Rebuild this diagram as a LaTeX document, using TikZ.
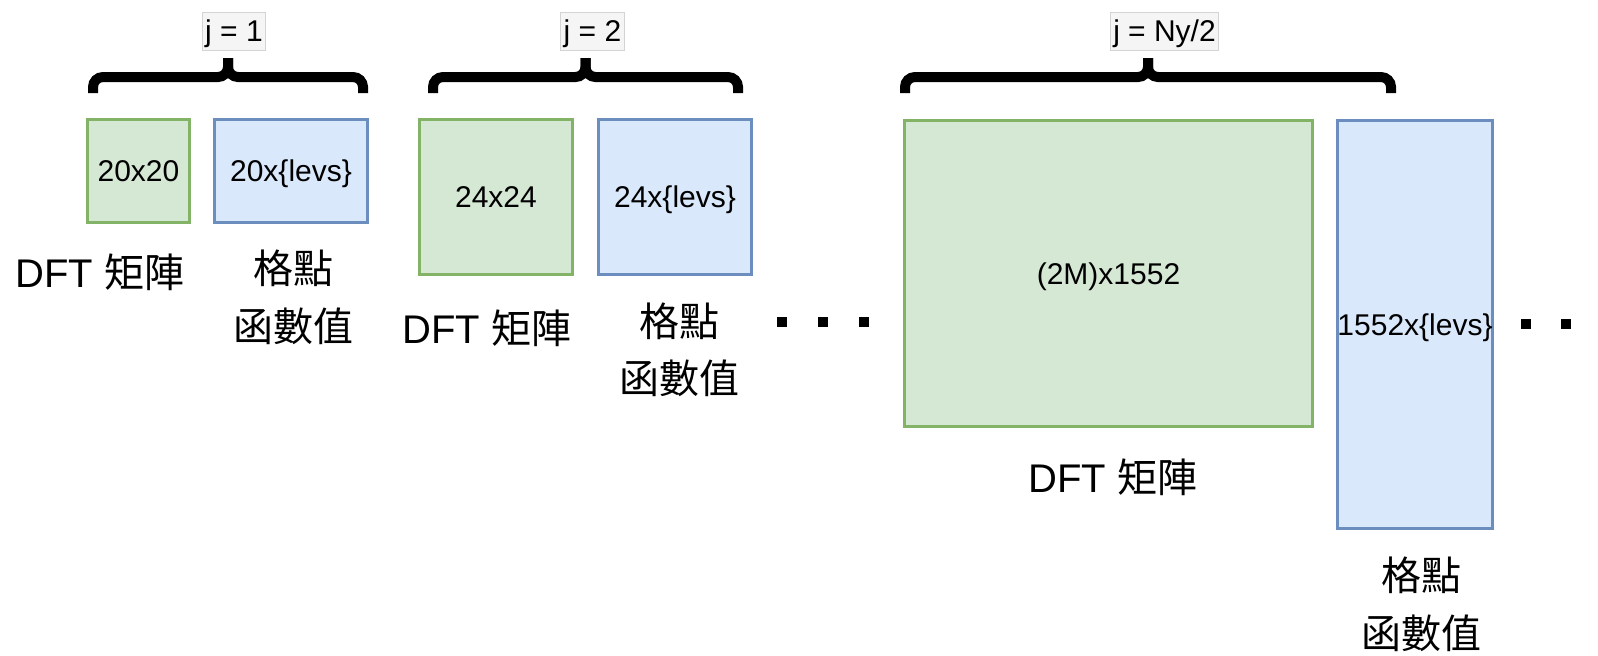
\documentclass[tikz,border=0pt]{standalone}
\usepackage{fontspec}
\setmainfont{Liberation Sans}
\newfontfamily\cjk{Noto Sans CJK TC}
\usepackage{tikz}
\usetikzlibrary{positioning}
\definecolor{DftFill}{HTML}{D5E8D4}
\definecolor{DftLine}{HTML}{82B366}
\definecolor{GridFill}{HTML}{DAE8FC}
\definecolor{GridLine}{HTML}{6C8EBF}
\definecolor{TagFill}{HTML}{F5F5F5}
\definecolor{TagLine}{HTML}{D4D4D4}

\begin{document}
\begin{tikzpicture}[
    x=0.5pt, y=-0.5pt,
    every node/.style={font=\fontsize{15}{18}\selectfont, inner sep=0pt},
    dftbox/.style={draw=DftLine, fill=DftFill, line width=1.5pt, text height=10.8pt, text depth=0pt},
    gridbox/.style={draw=GridLine, fill=GridFill, line width=1.5pt, text height=10.8pt, text depth=0pt},
    caption/.style={font=\fontsize{20}{24}\selectfont, text height=17.6pt, text depth=2.4pt},
    tag/.style={draw=TagLine, fill=TagFill, line width=0.5pt, minimum height=19pt,
      inner xsep=1.5pt, text height=10.8pt, text depth=0pt},
    bracepen/.style={line width=5pt, rounded corners=5pt},
    dot/.style={fill=black, minimum size=5pt}
  ]
    \useasboundingbox (0,0) rectangle (1598,655);
    % matrix blocks, one pair per j
    \foreach \n/\st/\x/\y/\w/\h/\txt in {
      g1/dftbox/138.5/171/51/51.5/{20x20},
      b1/gridbox/291/171/76.5/51.5/{20x\{levs\}},
      g2/dftbox/496/197/76.5/77.5/{24x24},
      b2/gridbox/675/197/76.5/77.5/{24x\{levs\}},
      g3/dftbox/1108.5/273.5/204/153/{(2M)x1552},
      b3/gridbox/1415/324.5/76.5/204/{1552x\{levs\}}
    }{
      \node[\st, minimum width=\w pt, minimum height=\h pt] (\n) at (\x,\y) {\txt};
    }
    % captions under the blocks
    \node[caption] (dft1) at (100,272) {DFT {\cjk 矩陣}};
    \node[caption] (pt1) at (293,268) {\cjk 格點};
    \node[caption] (fn1) at (293,326) {\cjk 函數值};
    \node[caption] (dft2) at (487,328) {DFT {\cjk 矩陣}};
    \node[caption] (pt2) at (679,321) {\cjk 格點};
    \node[caption] (fn2) at (679,378) {\cjk 函數值};
    \node[caption] (dft3) at (1113,477) {DFT {\cjk 矩陣}};
    \node[caption] (pt3) at (1421,575) {\cjk 格點};
    \node[caption] (fn3) at (1421,633) {\cjk 函數值};
    % braces with their j tags
    \foreach \l/\r/\m/\tx/\lab/\n in {
      93/363/228/234/{j = 1}/t1,
      433/738/585.5/592.5/{j = 2}/t2,
      905/1391/1148/1164.5/{j = Ny/2}/t3
    }{
      \draw[bracepen] (\l,93) |- (\m,77) -- (\m,58);
      \draw[bracepen] (\r,93) |- (\m,77) -- (\m,58);
      \node[tag] (\n) at (\tx,31) {\lab};
    }
    % ellipsis dots
    \foreach \n/\x/\y in {d1/782/322, d2/823/322, d3/864/322, d4/1526/324, d5/1566/324}{
      \node[dot] (\n) at (\x,\y) {};
    }
  \end{tikzpicture}
\end{document}
